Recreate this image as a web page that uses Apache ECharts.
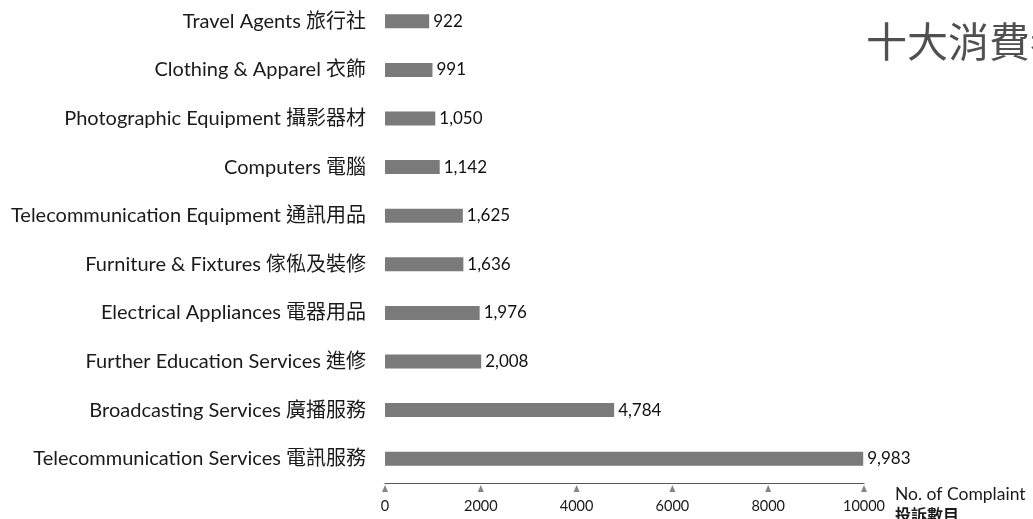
<!DOCTYPE html>
<html>
<head>
<meta charset="utf-8">
<style>
  html, body { margin: 0; padding: 0; background: #fff; }
  #chart { width: 1033px; height: 519px; }
</style>
<script src="https://cdn.jsdelivr.net/npm/echarts@6/dist/echarts.min.js"></script>
</head>
<body>
<div id="chart"></div>
<script>
// Top ten consumer complaint categories, listed from top row to bottom row
const categories = [
  'Travel Agents 旅行社',
  'Clothing & Apparel 衣飾',
  'Photographic Equipment 攝影器材',
  'Computers 電腦',
  'Telecommunication Equipment 通訊用品',
  'Furniture & Fixtures 傢俬及裝修',
  'Electrical Appliances 電器用品',
  'Further Education Services 進修',
  'Broadcasting Services 廣播服務',
  'Telecommunication Services 電訊服務'
];
const complaints = [922, 991, 1050, 1142, 1625, 1636, 1976, 2008, 4784, 9983];
const tickValues = [0, 2000, 4000, 6000, 8000, 10000];

const latin = 'Lato, "Noto Sans CJK TC", sans-serif';
const chart = echarts.init(document.getElementById('chart'), null, { renderer: 'canvas' });

chart.setOption({
  animation: false,
  backgroundColor: '#ffffff',
  title: {
    text: '十大消費者投訴',
    left: 861,
    top: 16,
    textStyle: {
      fontFamily: '"Noto Sans CJK TC", sans-serif',
      fontSize: 41,
      fontWeight: 'normal',
      color: '#505050'
    }
  },
  grid: [
    { left: 385, right: 169, top: -3, bottom: 36, containLabel: false, outerBoundsMode: 'none' },
    // thin strip under the axis line that holds the triangle tick markers
    { left: 385, right: 169, top: 485, height: 7, containLabel: false, outerBoundsMode: 'none' }
  ],
  xAxis: [
    {
      gridIndex: 0,
      type: 'value',
      min: 0,
      max: 10000,
      interval: 2000,
      splitLine: { show: false },
      axisTick: { show: false },
      axisLine: { show: true, lineStyle: { color: '#555', width: 1.2 } },
      axisLabel: {
        margin: 16,
        fontFamily: latin,
        fontSize: 14.5,
        color: '#1a1a1a',
        formatter: v => String(v)
      },
      name: 'No. of Complaint\n{b|投訴數目}',
      nameLocation: 'end',
      nameGap: 31,
      nameMoveOverlap: false,
      nameTextStyle: {
        fontFamily: latin,
        fontSize: 17.5,
        color: '#1a1a1a',
        align: 'left',
        verticalAlign: 'middle',
        lineHeight: 20,
        padding: [43, 0, 0, 0],
        rich: {
          b: {
            fontFamily: '"Noto Sans CJK TC", sans-serif',
            fontSize: 16,
            fontWeight: 'bold',
            color: '#1a1a1a',
            lineHeight: 20
          }
        }
      }
    },
    {
      gridIndex: 1,
      type: 'value',
      min: 0,
      max: 10000,
      show: false
    }
  ],
  yAxis: [
    {
      gridIndex: 0,
      type: 'category',
      data: categories,
      inverse: true,
      axisLine: { show: false },
      axisTick: { show: false },
      splitLine: { show: false },
      axisLabel: {
        margin: 19,
        fontFamily: latin,
        fontSize: 20,
        color: '#1a1a1a'
      }
    },
    {
      gridIndex: 1,
      type: 'value',
      min: 0,
      max: 1,
      show: false
    }
  ],
  series: [
    {
      type: 'bar',
      xAxisIndex: 0,
      yAxisIndex: 0,
      data: complaints,
      barWidth: 14,
      itemStyle: { color: '#7a7a7a' },
      label: {
        show: true,
        position: 'right',
        distance: 4,
        fontFamily: latin,
        fontSize: 17,
        color: '#111',
        formatter: p => p.value.toLocaleString('en-US')
      }
    },
    {
      type: 'scatter',
      xAxisIndex: 1,
      yAxisIndex: 1,
      data: tickValues.map(v => [v, 0.5]),
      symbol: 'triangle',
      symbolSize: [6, 7],
      itemStyle: { color: '#666' },
      silent: true
    }
  ]
});
</script>
</body>
</html>
